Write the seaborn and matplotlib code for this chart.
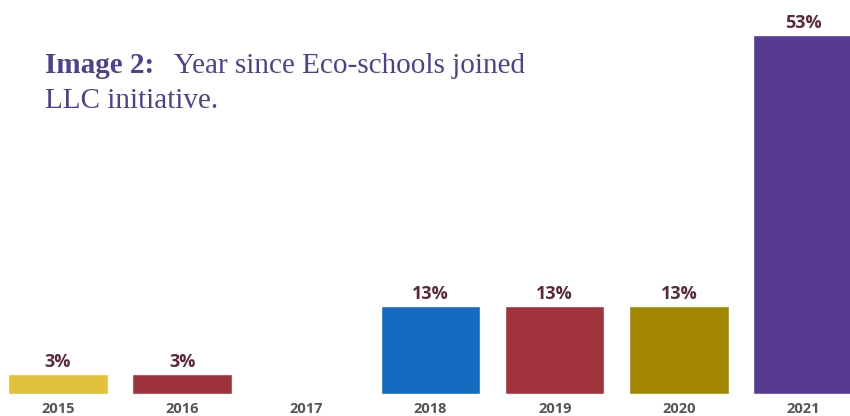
import matplotlib
matplotlib.use("Agg")
import matplotlib.pyplot as plt
import seaborn as sns
import pandas as pd

years = ["2015", "2016", "2017", "2018", "2019", "2020", "2021"]
values = [3, 3, 0, 13, 13, 13, 53]
labels = ["3%", "3%", "", "13%", "13%", "13%", "53%"]
colors = ["#e2c13c", "#9e333c", "#ffffff", "#156bbf", "#a1333d", "#a38600", "#573b92"]

sns.set_theme(style="white")
plt.rcParams["font.family"] = ["Open Sans", "DejaVu Sans"]

fig = plt.figure(figsize=(8.5, 4.16), dpi=100)
ax = fig.add_axes([0, 22 / 416, 1, 394 / 416])

df = pd.DataFrame({"year": years, "value": values})
sns.barplot(data=df, x="year", y="value", hue="year", palette=colors,
            order=years, width=0.8, legend=False, ax=ax, saturation=1)

ax.set_xlim(-0.466, 6.378)
ax.set_ylim(0, 58.1)
for s in ax.spines.values():
    s.set_visible(False)
ax.set_yticks([])
ax.set_xlabel("")
ax.set_ylabel("")
ax.tick_params(axis="x", length=0, pad=5.5)
for t in ax.get_xticklabels():
    t.set_fontweight("bold")
    t.set_color("#555555")
    t.set_fontsize(10.5)

for i, (v, lab) in enumerate(zip(values, labels)):
    if lab:
        ax.annotate(lab, (i, v), xytext=(0, 5), textcoords="offset points",
                    ha="center", va="baseline", fontsize=13, fontweight="bold",
                    color="#5b2a37")

tcol = "#4e4290"
fs = 21
fig.canvas.draw()
t1 = fig.text(45 / 850, 1 - 73 / 416, "Image 2:", fontsize=fs, fontweight="bold",
              family="Liberation Serif", color=tcol, va="baseline", ha="left")
fig.canvas.draw()
bb = t1.get_window_extent()
fig.text(bb.x1 / 850 + 20 / 850, 1 - 73 / 416, "Year since Eco-schools joined",
         fontsize=fs, family="Liberation Serif", color=tcol, va="baseline", ha="left")
fig.text(45 / 850, 1 - 108 / 416, "LLC initiative.", fontsize=fs,
         family="Liberation Serif", color=tcol, va="baseline", ha="left")

fig.savefig("out.png", dpi=100)
